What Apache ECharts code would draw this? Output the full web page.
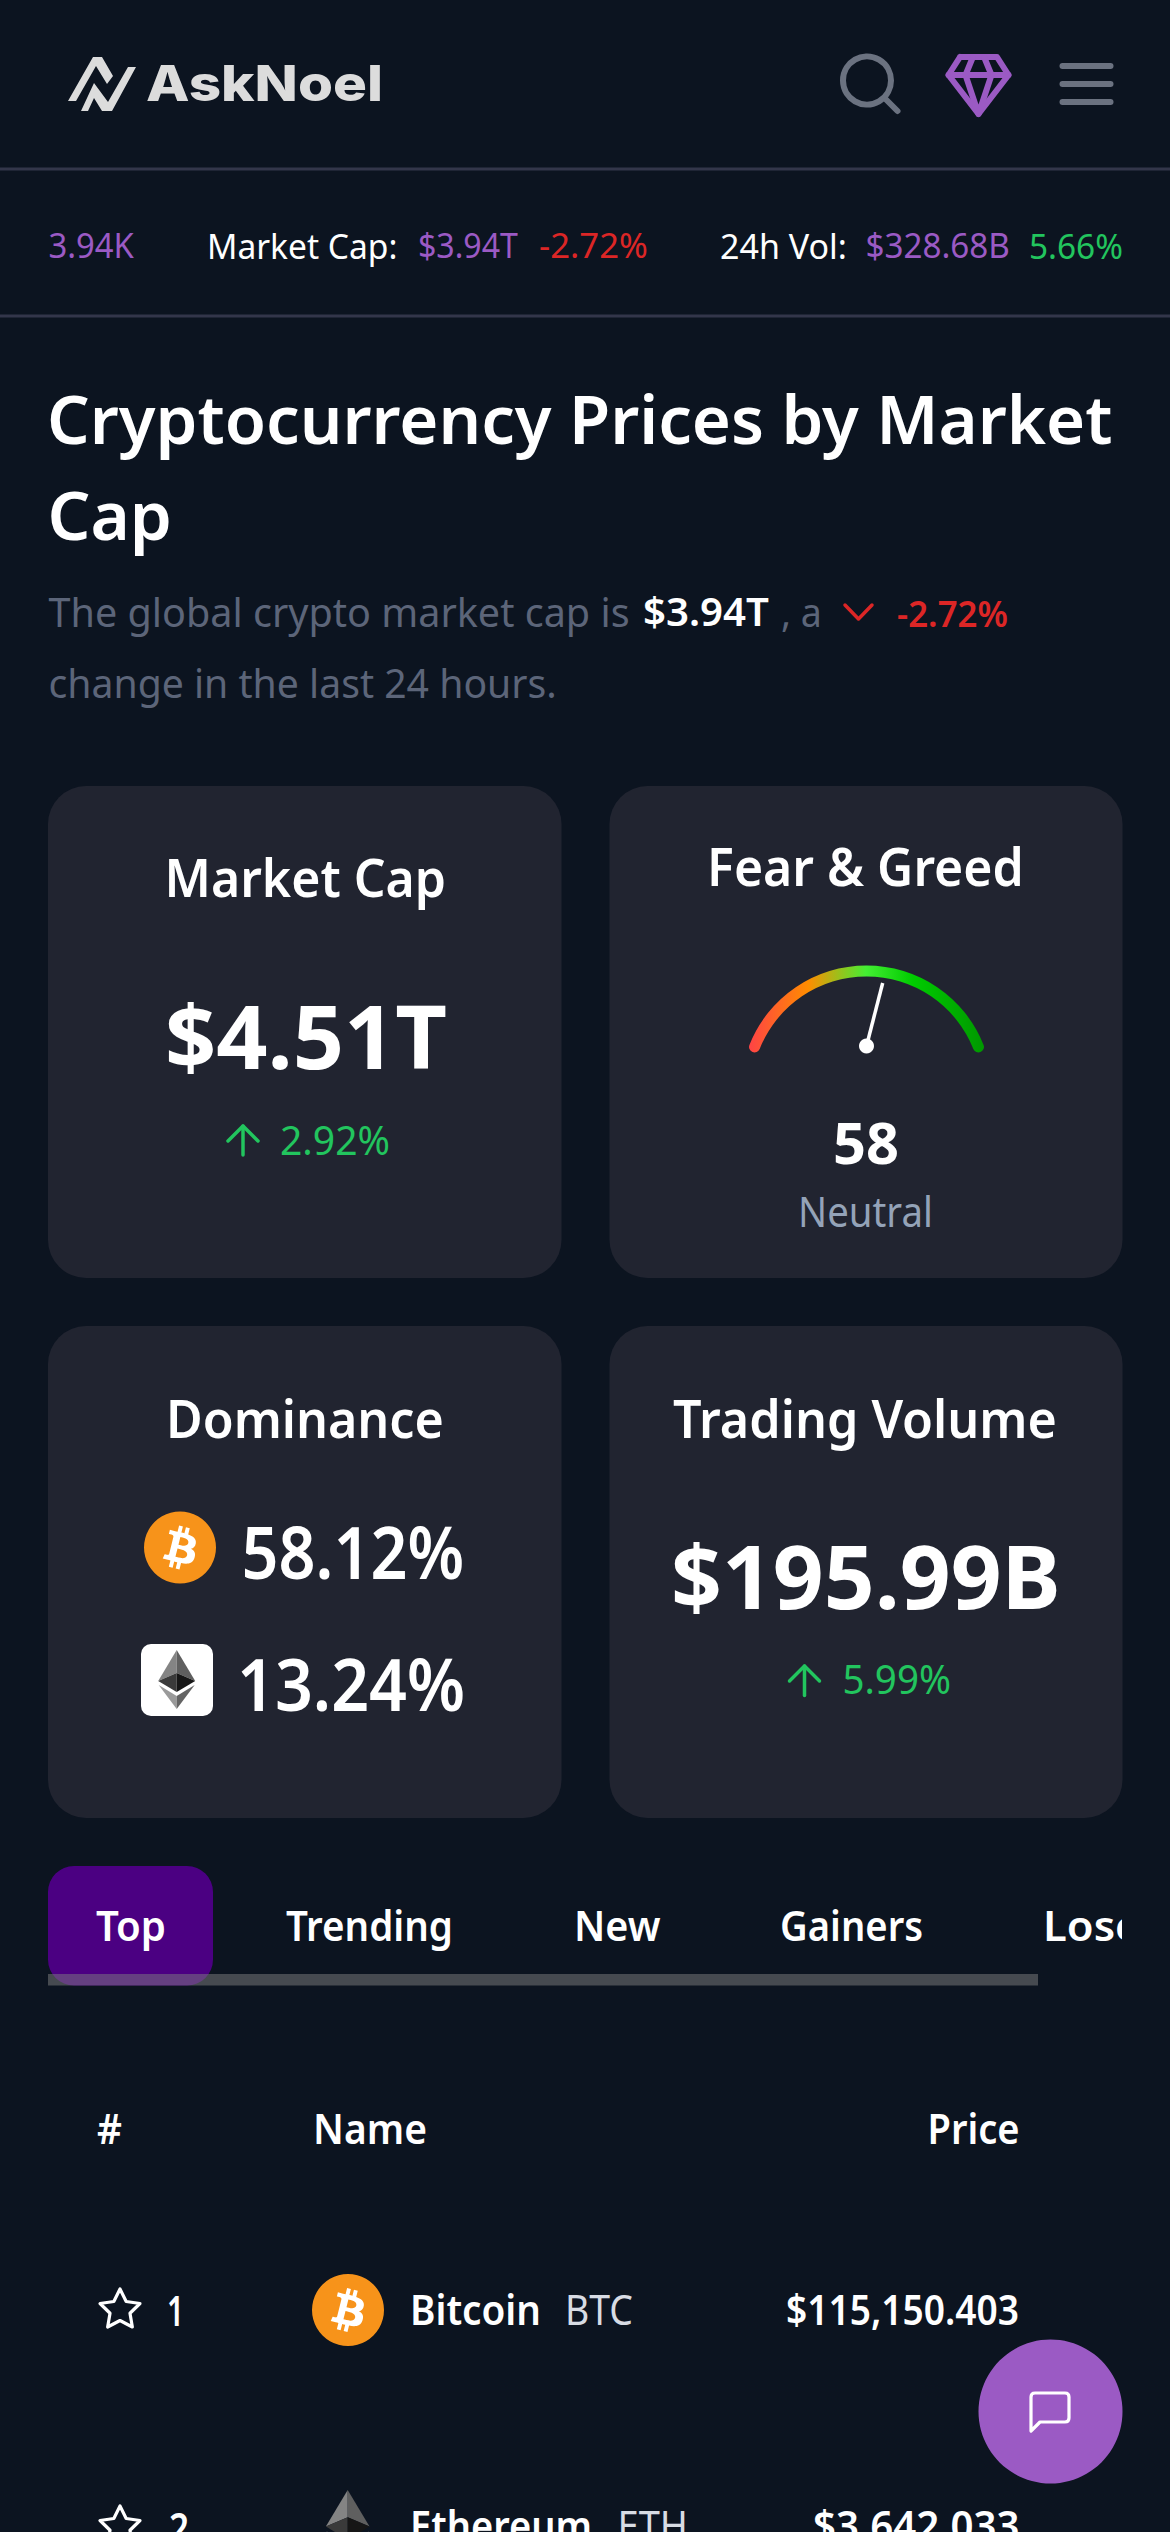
<!DOCTYPE html>
<html>
<head>
<meta charset="utf-8">
<title>AskNoel</title>
<script src="https://cdn.jsdelivr.net/npm/echarts@6/dist/echarts.min.js"></script>
<style>
  html, body { margin: 0; padding: 0; background: #0c1420; overflow: hidden; }
  #chartContainer { width: 1170px; height: 2532px; }
</style>
</head>
<body>
<div id="chartContainer"></div>
<script>
// Values
const fearGreedValue = [58];
const fearGreedLabel = 'Neutral';
const cardTitles = ['Market Cap', 'Fear & Greed', 'Dominance', 'Trading Volume'];
const cardValues = ['$4.51T', '$195.99B'];
const cardChanges = ['2.92%', '5.99%'];
const dominanceValues = ['58.12%', '13.24%'];
const tickerLabels = ['Market Cap:', '24h Vol:'];
const tickerValues = ['3.94K', '$3.94T', '$328.68B'];
const tickerChanges = ['-2.72%', '5.66%'];
const tabLabels = ['Top', 'Trending', 'New', 'Gainers', 'Losers'];
const tableHeaders = ['#', 'Name', 'Price'];
const coinNames = ['Bitcoin', 'Ethereum'];
const coinSymbols = ['BTC', 'ETH'];
const coinPrices = ['$115,150.403', '$3,642.033'];

const BG = '#0c1420';
const CARD = '#212430';
const PURPLE = '#9b5ac4';
const RED = '#dc2626';
const GREEN = '#22c55e';
const GREY = '#6b7280';
const FONT = "'Noto Sans'";

const BTC_PATH = 'M23.189 14.02c.314-2.096-1.283-3.223-3.465-3.975l.708-2.84-1.728-.43-.69 2.765c-.454-.114-.92-.22-1.385-.326l.695-2.783L15.596 6l-.708 2.839c-.376-.086-.746-.17-1.104-.26l.002-.009-2.384-.595-.46 1.846s1.283.294 1.256.312c.7.175.826.638.805 1.006l-.806 3.235c.048.012.11.03.18.057l-.183-.045-1.13 4.532c-.086.212-.303.531-.793.41.018.025-1.256-.313-1.256-.313l-.858 1.978 2.25.561c.418.105.828.215 1.231.318l-.715 2.872 1.727.43.708-2.84c.472.127.93.245 1.378.357l-.706 2.828 1.728.43.715-2.866c2.948.558 5.164.333 6.097-2.333.752-2.146-.037-3.385-1.588-4.192 1.13-.26 1.98-1.003 2.207-2.538zm-3.95 5.538c-.533 2.147-4.148.986-5.32.695l.95-3.805c1.172.293 4.929.872 4.37 3.11zm.535-5.569c-.487 1.953-3.495.96-4.47.717l.86-3.45c.975.243 4.118.696 3.61 2.733z';
const CHAT_PATH = 'M1031 2431V2397Q1031 2393 1035 2393H1065Q1069 2393 1069 2397V2418Q1069 2422 1065 2422H1040Z';

echarts.graphic.registerShape('btcGlyph', echarts.graphic.extendPath(BTC_PATH, {}));
echarts.graphic.registerShape('chatBubble', echarts.graphic.extendPath(CHAT_PATH, {}));

const measureCtx = document.createElement('canvas').getContext('2d');

// Text placed on its baseline; when x2 is given it is squeezed to span x..x2
function label(text, x, baseline, size, weight, fill, x2, fontName) {
    const font = weight + ' ' + size + 'px ' + (fontName || FONT);
    measureCtx.font = font;
    measureCtx.textBaseline = 'middle';
    const m = measureCtx.measureText('H');
    const width = measureCtx.measureText(text).width;
    return {
        type: 'text',
        x: x,
        y: baseline - m.actualBoundingBoxDescent - size * 0.09,
        scaleX: x2 ? (x2 - x) / width : 1,
        silent: true,
        style: { text: text, x: 0, y: 0, font: font, fill: fill, textAlign: 'left', textVerticalAlign: 'middle' }
    };
}

function stroked(points, color, width) {
    return {
        type: 'polyline',
        silent: true,
        shape: { points: points },
        style: { stroke: color, lineWidth: width, lineCap: 'round', lineJoin: 'round', fill: null }
    };
}

function polygon(points, color) {
    return { type: 'polygon', silent: true, shape: { points: points }, style: { fill: color } };
}

function box(x, y, width, height, r, color) {
    return { type: 'rect', silent: true, shape: { x: x, y: y, width: width, height: height, r: r }, style: { fill: color } };
}

function btcIcon(cx, cy, r) {
    const k = r * 0.0611;
    return [
        { type: 'circle', silent: true, shape: { cx: cx, cy: cy, r: r }, style: { fill: '#f7931a' } },
        { type: 'btcGlyph', silent: true, x: cx - 16 * k, y: cy - 16 * k, scaleX: k, scaleY: k, style: { fill: '#fff' } }
    ];
}

function ethIcon(cx, top, k) {
    const p = (dx, dy) => [cx + dx * k, top + dy * k];
    return [
        polygon([p(0, 0), p(-18.5, 31), p(0, 23)], '#848484'),
        polygon([p(0, 0), p(18.5, 31), p(0, 23)], '#5f5f5f'),
        polygon([p(0, 23), p(-18.5, 31), p(0, 42)], '#3a3a3a'),
        polygon([p(0, 23), p(18.5, 31), p(0, 42)], '#161616'),
        polygon([p(-18, 35), p(0, 46), p(0, 59)], '#9a9a9a'),
        polygon([p(18, 35), p(0, 46), p(0, 59)], '#646464')
    ];
}

function upArrow(cx, top, bottom) {
    return [
        stroked([[cx, top + 1], [cx, bottom]], GREEN, 3.5),
        stroked([[cx - 15, top + 16], [cx, top + 1], [cx + 15, top + 16]], GREEN, 3.5)
    ];
}

function star(cx, cy) {
    const points = [];
    for (let i = 0; i < 10; i++) {
        const r = i % 2 ? 10.5 : 21;
        const a = -Math.PI / 2 + i * Math.PI / 5;
        points.push([cx + r * Math.cos(a), cy + r * Math.sin(a)]);
    }
    return {
        type: 'polygon', silent: true,
        shape: { points: points },
        style: { fill: null, stroke: '#fff', lineWidth: 3.2, lineJoin: 'round' }
    };
}

const elements = [
    // header
    polygon([[68, 101], [76, 101], [96, 66], [107, 84], [113, 76], [102, 57], [93, 57]], '#dcdcdc'),
    polygon([[81, 111], [88, 111], [94, 98], [102, 111], [112, 111], [136, 67], [128, 67], [108, 102], [94, 83]], '#dcdcdc'),
    label('AskNoel', 146, 102, 50, 800, '#dcdcdc', 383, 'Inter'),
    { type: 'circle', silent: true, shape: { cx: 867, cy: 80.5, r: 24 }, style: { fill: null, stroke: GREY, lineWidth: 6 } },
    stroked([[885.5, 99], [897.5, 111]], GREY, 6),
    stroked([[960, 57], [997, 57], [1008.5, 75], [978.5, 114], [948.5, 75], [960, 57]], PURPLE, 6),
    stroked([[948.5, 75], [1008.5, 75]], PURPLE, 6),
    stroked([[972.5, 58], [965.5, 75], [978.5, 114], [991.5, 75], [984.5, 58]], PURPLE, 6),
    stroked([[1062.5, 66], [1110.5, 66]], GREY, 6),
    stroked([[1062.5, 84], [1110.5, 84]], GREY, 6),
    stroked([[1062.5, 102], [1110.5, 102]], GREY, 6),
    box(0, 167.5, 1170, 3, 0, '#33364a'),

    // ticker
    label(tickerValues[0], 48.5, 258, 35, 400, PURPLE, 134),
    label(tickerLabels[0], 207, 258, 35, 400, '#fff', 397.5),
    label(tickerValues[1], 418, 258, 35, 400, PURPLE, 518),
    label(tickerChanges[0], 539, 258, 35, 400, RED, 648),
    label(tickerLabels[1], 720, 258, 35, 400, '#fff', 847),
    label(tickerValues[2], 865.5, 258, 35, 400, PURPLE, 1010),
    label(tickerChanges[1], 1029, 258, 35, 400, GREEN, 1123),
    box(0, 314.5, 1170, 3, 0, '#33364a'),

    // heading
    label('Cryptocurrency Prices by Market', 47, 443, 67, 600, '#fff', 1113),
    label('Cap', 47.5, 539.5, 67, 600, '#fff', 172),
    label('The global crypto market cap is', 48.5, 626, 40, 400, '#5c6579', 630),
    label(tickerValues[1], 643, 626, 40, 600, '#fff', 769),
    label(', a', 781, 626, 40, 400, '#5c6579', 822),
    stroked([[845, 605], [858.5, 619], [872, 605]], RED, 3.5),
    label(tickerChanges[0], 897, 626, 36, 600, RED, 1008),
    label('change in the last 24 hours.', 48.5, 698, 40, 400, '#5c6579', 557),

    // cards
    box(48, 786, 513.5, 492, 38, CARD),
    box(609.5, 786, 513, 492, 38, CARD),
    box(48, 1326, 513.5, 492, 38, CARD),
    box(609.5, 1326, 513, 492, 38, CARD),

    label(cardTitles[0], 164.5, 896.5, 52, 600, '#fff', 446),
    label(cardValues[0], 165, 1067.5, 88, 700, '#fff', 447),
    ...upArrow(243, 1125, 1155),
    label(cardChanges[0], 280, 1154.5, 40, 400, GREEN, 390),

    label(cardTitles[1], 707, 885, 52, 600, '#fff', 1024),
    label(String(fearGreedValue[0]), 833, 1163, 57, 700, '#fff', 899),
    label(fearGreedLabel, 798, 1227, 42, 400, '#94a3b8', 933),

    label(cardTitles[2], 166, 1437, 52, 600, '#fff', 444),
    ...btcIcon(180, 1547.5, 36),
    label(dominanceValues[0], 241.5, 1578, 72, 600, '#fff', 464),
    box(141, 1644, 72, 72, 10, '#fff'),
    ...ethIcon(176.7, 1650, 1),
    label(dominanceValues[1], 237, 1710, 72, 600, '#fff', 465),

    label(cardTitles[3], 673, 1437, 52, 600, '#fff', 1057),
    label(cardValues[1], 671, 1607.5, 88, 700, '#fff', 1061),
    ...upArrow(804.5, 1665, 1695.5),
    label(cardChanges[1], 842.5, 1694, 40, 400, GREEN, 951),

    // tabs
    box(48, 1866, 165, 119.5, 26, '#4b0082'),
    box(48, 1974, 990, 11.5, 0, 'rgba(128,128,128,0.5)'),
    label(tabLabels[0], 96, 1940.5, 41, 600, '#fff', 166),
    label(tabLabels[1], 286, 1940.5, 41, 600, '#fff', 453),
    label(tabLabels[2], 574, 1940.5, 41, 600, '#fff', 660.5),
    label(tabLabels[3], 780, 1940.5, 41, 600, '#fff', 923),
    label(tabLabels[4], 1043, 1940.5, 41, 600, '#fff', 1181),
    box(1122, 1900, 48, 60, 0, BG),

    // table
    label(tableHeaders[0], 97, 2143.5, 41, 600, '#fff', 122),
    label(tableHeaders[1], 313, 2143.5, 41, 600, '#fff', 427),
    label(tableHeaders[2], 927.5, 2143.5, 41, 600, '#fff', 1019.5),

    star(120, 2310),
    label('1', 167, 2325, 41, 600, '#fff', 184),
    ...btcIcon(348, 2310, 36),
    label(coinNames[0], 410, 2324, 41, 600, '#fff', 541),
    label(coinSymbols[0], 565, 2324, 41, 400, '#d8dce4', 633),
    label(coinPrices[0], 786, 2324, 41, 600, '#fff', 1019),

    star(120, 2527),
    label('2', 169, 2542, 41, 600, '#fff', 189),
    ...ethIcon(347.7, 2490, 1.18),
    label(coinNames[1], 410, 2541, 41, 600, '#fff', 592),
    label(coinSymbols[1], 617.5, 2541, 41, 400, '#d8dce4', 688),
    label(coinPrices[1], 813, 2541, 41, 600, '#fff', 1019.5),

    // chat button
    { type: 'circle', silent: true, z: 5, shape: { cx: 1050.5, cy: 2411.5, r: 72 }, style: { fill: PURPLE } },
    { type: 'chatBubble', silent: true, z: 6, style: { fill: null, stroke: '#fff', lineWidth: 3.2, lineJoin: 'round' } }
];

const myChart = echarts.init(document.getElementById('chartContainer'), null, { renderer: 'svg' });

myChart.setOption({
    backgroundColor: BG,
    animation: false,
    graphic: { elements: elements },
    series: [
        {
            // coloured arc
            type: 'gauge',
            silent: true,
            center: [866.5, 1091.5],
            radius: 126,
            startAngle: 158.3,
            endAngle: 21.7,
            min: 0,
            max: 100,
            axisLine: {
                roundCap: true,
                lineStyle: {
                    width: 11,
                    color: [[1, new echarts.graphic.LinearGradient(750, 0, 982, 0, [
                        { offset: 0, color: '#ff4444' },
                        { offset: 0.25, color: '#ff8c00' },
                        { offset: 0.5, color: '#44ee33' },
                        { offset: 0.7, color: '#00cc00' },
                        { offset: 1, color: '#009900' }
                    ], true)]]
                }
            },
            pointer: { show: false },
            axisTick: { show: false },
            splitLine: { show: false },
            axisLabel: { show: false },
            detail: { show: false },
            title: { show: false },
            data: []
        },
        {
            // needle, pivots below the arc's own centre
            type: 'gauge',
            silent: true,
            center: [866.5, 1046],
            radius: 70,
            startAngle: 180,
            endAngle: 0,
            min: 0,
            max: 100,
            axisLine: { show: false },
            pointer: { icon: 'rect', length: 65, width: 3.5, offsetCenter: [0, 0], itemStyle: { color: '#fff' } },
            anchor: { show: true, showAbove: true, size: 15, itemStyle: { color: '#fff' } },
            axisTick: { show: false },
            splitLine: { show: false },
            axisLabel: { show: false },
            detail: { show: false },
            title: { show: false },
            data: fearGreedValue.map(v => ({ value: v }))
        }
    ]
});
</script>
</body>
</html>
